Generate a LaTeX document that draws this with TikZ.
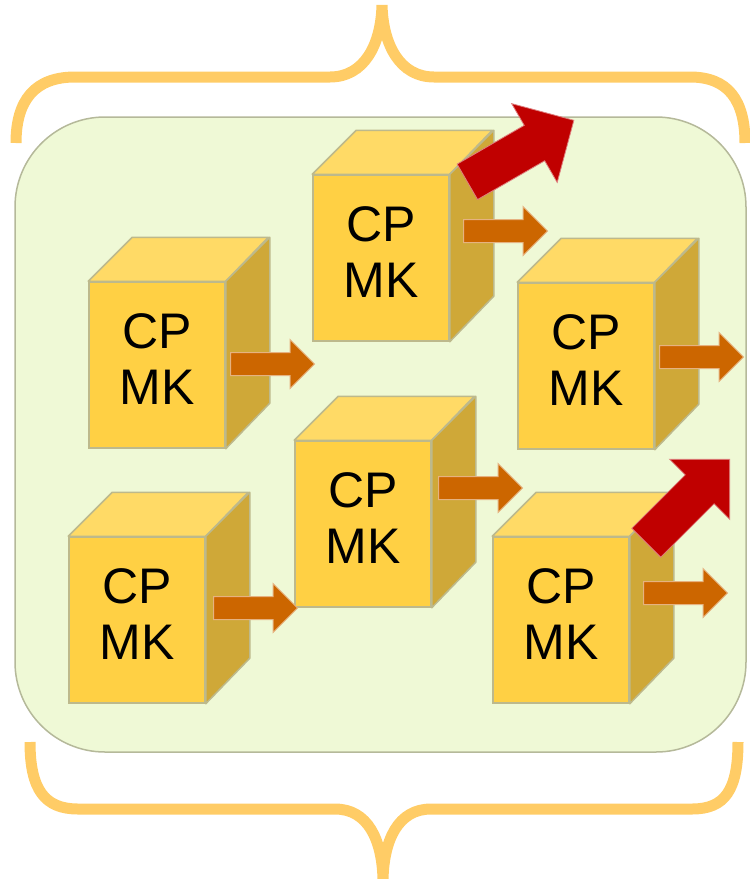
\documentclass[tikz,border=0pt]{standalone}
\usepackage{fontspec}
\setmainfont{Liberation Sans}
\usetikzlibrary{shapes.arrows}

\definecolor{cubefront}{HTML}{FFD044}
\definecolor{cubetop}{HTML}{FFDA66}
\definecolor{cubeside}{HTML}{CFA838}
\definecolor{cubeedge}{HTML}{BDB98C}
\definecolor{panelfill}{HTML}{EFF9D6}
\definecolor{paneledge}{HTML}{B5B99A}
\definecolor{bracecol}{HTML}{FFCC66}
\definecolor{flowcol}{HTML}{CC6600}
\definecolor{burstcol}{HTML}{C00000}

\begin{document}
\begin{tikzpicture}[
        x=1pt, y=-1pt,
        front/.style={rectangle, draw=cubeedge, line width=1.5pt, fill=cubefront, minimum width=136pt, minimum height=166pt, inner sep=0pt, align=center, text depth=11pt, font=\fontsize{50pt}{56pt}\selectfont},
        topface/.style={fill=cubetop, draw=cubeedge, line width=1.5pt, line join=round},
        sideface/.style={fill=cubeside, draw=cubeedge, line width=1.5pt, line join=round},
        flow/.style={single arrow, anchor=tail, fill=flowcol, draw=flowcol!50!white, line width=1pt, minimum height=84pt, minimum width=48pt, inner xsep=0pt, inner ysep=11pt, single arrow head extend=13pt, single arrow head indent=0pt},
        burst/.style={single arrow, anchor=tail, fill=burstcol, draw=burstcol!50!white, line width=0.8pt, minimum height=123pt, minimum width=91pt, inner xsep=0pt, inner ysep=20pt, single arrow head extend=25pt, single arrow head indent=0pt},
        brace/.style={draw=bracecol, line width=11pt}
    ]
    \useasboundingbox (0,0) rectangle (750,879);

    % braces and panel
    \path[brace] (16,143) .. controls (16,100) and (35,77) .. (75,77) -- (330,77)
        .. controls (364,77) and (381,45) .. (382,5) .. controls (383,45) and (400,77) .. (434,77)
        -- (690,77) .. controls (728,77) and (745,100) .. (745,143);
    \path[brace] (30,742) .. controls (30,790) and (45,809) .. (78,809) -- (335,809)
        .. controls (368,809) and (382,840) .. (383,879) .. controls (384,840) and (398,809) .. (431,809)
        -- (692,809) .. controls (725,809) and (738,790) .. (738,742);
    \draw[fill=panelfill, draw=paneledge, line width=1.5pt, rounded corners=90pt] (15,117) rectangle (746,752);

    % cubes
    \foreach \n/\x/\y in {1/381/258, 2/157/365, 3/586/366, 4/363/524, 5/137/620, 6/561/620} {
        \node[front] (cube\n) at (\x,\y) {CP\\MK};
        \path[topface] (cube\n.north west) -- ++(44,-44) -- ++(136,0) -- (cube\n.north east) -- cycle;
        \path[sideface] (cube\n.north east) -- ++(44,-44) -- ++(0,166) -- (cube\n.south east) -- cycle;
    }

    % arrows
    \foreach \n/\x/\y in {1/463/231, 2/230/364, 3/659/357, 4/438/488, 5/213/608, 6/643/593}
        \node[flow] (flow\n) at (\x,\y) {};
    \node[burst, rotate=30] (burst1) at (467,182) {};
    \node[burst, rotate=45, minimum height=118pt, minimum width=85pt, single arrow head extend=22pt] (burst2) at (646,543) {};

\end{tikzpicture}
\end{document}
